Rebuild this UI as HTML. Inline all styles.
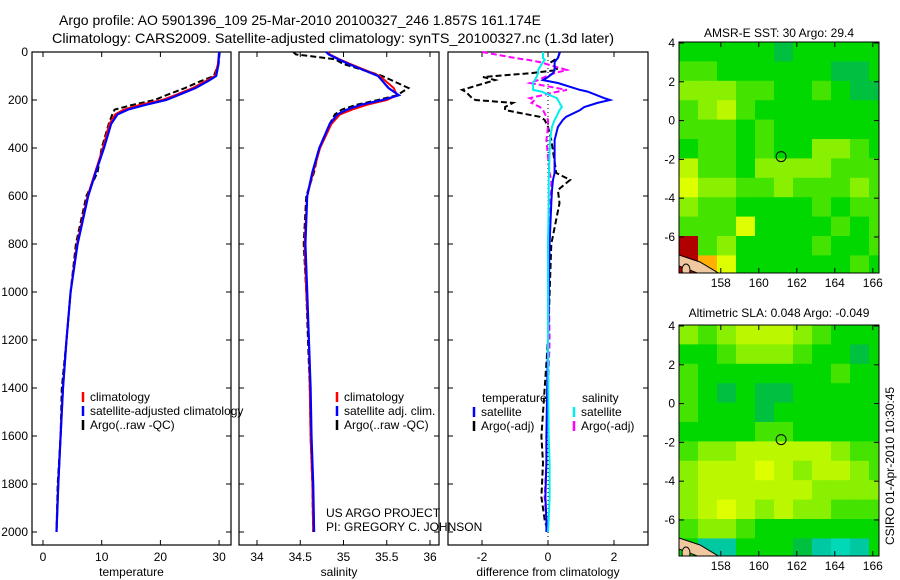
<!DOCTYPE html>
<html><head><meta charset="utf-8"><style>
body{margin:0;background:#fff;}
svg{display:block;font-family:"Liberation Sans",sans-serif;}
</style></head><body>
<svg id="c" width="900" height="580" xmlns="http://www.w3.org/2000/svg">
<text x="59" y="25" font-size="14" textLength="482" lengthAdjust="spacingAndGlyphs">Argo profile: AO 5901396_109 25-Mar-2010 20100327_246 1.857S 161.174E</text>
<text x="52" y="43" font-size="14" textLength="562" lengthAdjust="spacingAndGlyphs">Climatology: CARS2009. Satellite-adjusted climatology: synTS_20100327.nc (1.3d later)</text>
<text x="779" y="37" font-size="12" text-anchor="middle">AMSR-E SST: 30 Argo: 29.4</text>
<text x="779" y="317" font-size="12" text-anchor="middle">Altimetric SLA: 0.048 Argo: -0.049</text>
<text transform="translate(894,466) rotate(-90)" font-size="12" text-anchor="middle">CSIRO 01-Apr-2010 10:30:45</text>
<text x="326" y="517" font-size="12">US ARGO PROJECT</text>
<text x="326" y="531" font-size="12">PI: GREGORY C. JOHNSON</text>
</svg>
<script>
const NS="http://www.w3.org/2000/svg";
const svg=document.getElementById('c');
// ---- profile data ----
const tDepth=[0,50,100,120,150,180,200,220,240,260,300,400,500,600,800,1000,1200,1400,1600,1800,2000];
const tClim=[30,29.8,29.3,27.8,25.5,22.5,20.3,16.5,13.8,12.3,11.3,10.2,8.9,7.6,5.8,4.7,4.0,3.4,3.0,2.6,2.3];
const tSat=[30,29.9,29.5,28.2,26,23,21,17.5,14.5,12.7,11.6,10.4,9,7.7,5.9,4.7,4.0,3.4,3.0,2.6,2.3];
const tArgo=[30.1,29.9,29.1,27,24.2,21,19,15.3,12.2,11.8,11.2,10.0,9.3,7.4,5.6,4.7,4.0,3.2,3.0,2.5,2.3];
const sDepth=[0,10,30,50,100,150,180,200,220,240,260,300,400,500,600,800,1000,1200,1400,1600,1800,2000];
const sClim=[34.82,34.84,34.95,35.08,35.42,35.58,35.62,35.5,35.27,35.1,34.96,34.86,34.73,34.65,34.58,34.55,34.57,34.6,34.61,34.62,34.64,34.65];
const sSat=[34.8,34.83,34.94,35.06,35.4,35.52,35.64,35.45,35.2,35.04,34.93,34.84,34.72,34.64,34.58,34.56,34.58,34.6,34.62,34.63,34.65,34.66];
const sArgo=[34.42,34.45,34.9,35.0,35.45,35.75,35.62,35.4,35.15,34.98,34.9,34.84,34.72,34.66,34.57,34.54,34.57,34.59,34.61,34.62,34.64,34.65];
const dDepth=[0,25,33,42,75,88,104,117,129,158,165,192,200,212,229,242,270,283,312,367,504,533,575,630,800,1200,1600,1712,1854,1950,2000];
const dTSat=[0.36,0.3,0.25,0.2,0.2,0.15,0,-0.15,0.3,0.97,1.2,1.7,1.88,1.5,1.1,0.97,0.55,0.45,0.3,0.2,0.2,0.15,0.12,0.1,0.05,0,-0.05,-0.05,-0.08,-0.05,-0.05];
const dTArgo=[0.36,0.3,0.2,0.1,0.3,-0.5,-1.97,-1.6,-1.9,-2.6,-2.5,-2.3,-2.2,-1.06,-1.3,-1.3,-0.25,-0.1,0,0.1,0.25,0.67,0.3,0.35,0.1,0,-0.2,-0.15,-0.2,-0.1,0];
const dSSat=[-0.15,-0.15,-0.1,-0.15,-0.3,-0.3,-0.35,-0.4,-0.45,-0.45,-0.2,0.27,0.3,0.35,0.42,0.35,0.25,0.2,0.12,0.06,0.03,0.02,0.02,0.02,0,0,0.02,0.05,0.05,0.02,0];
const dSArgo=[-2.0,-1.0,-0.6,-0.25,0.57,0.2,-0.1,-0.3,-0.55,0.57,0.3,-0.55,-0.4,-0.5,-0.25,-0.15,-0.05,0,0,-0.05,0.05,0.1,0.1,0.05,0,0.05,-0.05,-0.05,-0.1,-0.05,0];
// ---- map data (rows lat 4 -> -8, cols lon 155.8 -> 166.8, 1 deg) ----
const sstGrid=[
[1,1,1,1,1,0,1,1,1,1,1],
[2,2,1,1,1,1,1,1,0,0,1],
[3,3,3,2,2,1,1,2,1,0,0],
[2,3,4,2,1,1,1,1,1,1,1],
[2,2,2,1,2,1,1,1,1,1,1],
[1,2,2,1,2,1,1,3,3,2,1],
[4,2,2,1,3,3,3,3,2,2,2],
[5,3,3,2,2,3,2,2,2,3,2],
[3,2,2,1,1,1,1,2,1,2,2],
[2,2,2,5,1,1,1,1,2,1,2],
[7,2,3,1,1,1,1,2,1,1,2],
[7,6,5,1,1,1,1,1,1,2,1]];
const slaGrid=[
[3,2,3,4,4,4,3,2,1,1,1],
[1,1,2,3,3,3,2,1,1,0,1],
[2,1,1,1,1,1,1,1,2,1,1],
[2,1,0,1,0,0,1,1,1,1,1],
[2,1,1,1,0,1,1,1,1,1,1],
[1,1,1,1,2,2,1,1,1,1,1],
[2,3,3,4,4,4,4,4,3,2,2],
[3,4,4,4,5,4,3,4,4,3,2],
[3,4,4,4,4,4,4,3,3,3,3],
[3,4,5,4,3,4,3,3,2,2,2],
[2,3,3,2,1,1,1,1,1,1,1],
[1,-1,-1,1,1,1,0,-1,-2,-1,1]];
const palette={"-2":"#00d8b8","-1":"#00c8a0","0":"#00c040","1":"#00d800","2":"#44e400","3":"#88f000","4":"#bbf800","5":"#ddff00","6":"#ffb000","7":"#b00000"};
const argoLon=161.174, argoLat=-1.857;

function el(tag,attrs,parent){const e=document.createElementNS(NS,tag);for(const k in attrs)e.setAttribute(k,attrs[k]);(parent||svg).appendChild(e);return e;}
function txt(x,y,s,size,anchor,parent){const t=el('text',{x:x,y:y,'font-size':size,'text-anchor':anchor||'start'},parent);t.textContent=s;return t;}
const yD=d=>52+d*0.24;

function panel(name,x0,x1,xs,ticks,labels,xlab,showY){
  const g=el('g',{});
  
  
  const fr=el('rect',{x:x0,y:52,width:x1-x0,height:493,fill:'none',stroke:'#000','stroke-width':1.2},g);
  
  
  ticks.forEach((v,i)=>{const x=xs(v);
    el('line',{x1:x,x2:x,y1:545,y2:540,stroke:'#000'},g);el('line',{x1:x,x2:x,y1:52,y2:57,stroke:'#000'},g);
    const t=txt(x,561,labels[i],12,'middle',g);
    
    });
  for(let d=0;d<=2000;d+=200){const y=yD(d);
    el('line',{x1:x0,x2:x0+5,y1:y,y2:y,stroke:'#000'},g);el('line',{x1:x1,x2:x1-5,y1:y,y2:y,stroke:'#000'},g);
    if(showY){const t=txt(28,y+4,String(d),12,'end',g);
      
      }}
  const xl=txt((x0+x1)/2,576,xlab,12,'middle',g);
  
  
  return g;
}
function line(depths,vals,xs,color,w,dash,name){
  const p=depths.map((d,i)=>xs(vals[i]).toFixed(1)+','+yD(d).toFixed(1)).join(' ');
  const e=el('polyline',{points:p,fill:'none',stroke:color,'stroke-width':w,'stroke-dasharray':dash||'none'});
  
  
}
function legend(x,y,color,label,name){
  el('line',{x1:x,x2:x,y1:y-9,y2:y+1,stroke:color,'stroke-width':2.5});
  const t=txt(x+7,y,label,12,'start');
  
  
}
// Panel 1 temperature
const xT=v=>43+5.87*v;
panel('temperature-panel',32,231,xT,[0,10,20,30],['0','10','20','30'],'temperature',true);
line(tDepth,tArgo,xT,'#000',2,'6,3','temp-argo-line');
line(tDepth,tClim,xT,'#f00',2,null,'temp-climatology-line');
line(tDepth,tSat,xT,'#00f',2.2,null,'temp-satellite-line');
legend(83,401,'#f00','climatology','legend-climatology');
legend(83,415,'#00f','satellite-adjusted climatology','legend-satellite');
legend(83,429,'#000','Argo(..raw -QC)','legend-argo');
// Panel 2 salinity
const xS=v=>257+86.5*(v-34);
panel('salinity-panel',239,439,xS,[34,34.5,35,35.5,36],['34','34.5','35','35.5','36'],'salinity',false);
line(sDepth,sArgo,xS,'#000',2,'6,3','sal-argo-line');
line(sDepth,sClim,xS,'#f00',2,null,'sal-climatology-line');
line(sDepth,sSat,xS,'#00f',2.2,null,'sal-satellite-line');
legend(337,401,'#f00','climatology','legend-sal-climatology');
legend(337,415,'#00f','satellite adj. clim.','legend-sal-satellite');
legend(337,429,'#000','Argo(..raw -QC)','legend-sal-argo');
// Panel 3 difference
const xDf=v=>548+33*v;
panel('difference-panel',448,648,xDf,[-2,0,2],['-2','0','2'],'difference from climatology',false);
el('line',{x1:548,x2:548,y1:52,y2:545,stroke:'#000','stroke-dasharray':'1,3'});
line(dDepth,dTArgo,xDf,'#000',2,'6,3','diff-temp-argo-line');
line(dDepth,dSArgo,xDf,'#f0f',2,'6,3','diff-sal-argo-line');
line(dDepth,dTSat,xDf,'#00f',2,null,'diff-temp-satellite-line');
line(dDepth,dSSat,xDf,'#0ee',2,null,'diff-sal-satellite-line');
{const a=txt(482,402,'temperature',12);
 const b=txt(582,402,'salinity',12);}
legend(474,416,'#00f','satellite','legend-diff-temp-satellite');
legend(474,430,'#000','Argo(-adj)','legend-diff-temp-argo');
legend(574,416,'#0ee','satellite','legend-diff-sal-satellite');
legend(574,430,'#f0f','Argo(-adj)','legend-diff-sal-argo');

// Maps
function map(name,top,grid){
  const g=el('g',{});
  
  
  const lat0=4.05, lon0=155.8, px=19, py=19.4;
  const X=lon=>679+(lon-lon0)*px, Y=lat=>top+(lat0-lat)*py;
  const clipId=name+'-clip';
  const cp=el('clipPath',{id:clipId},g);el('rect',{x:679,y:top,width:200,height:231},cp);
  const cg=el('g',{'clip-path':'url(#'+clipId+')'},g);
  grid.forEach((row,r)=>row.forEach((v,c)=>{
    const cell=el('rect',{x:X(lon0+c).toFixed(1),y:Y(lat0-r).toFixed(1),width:px+0.6,height:py+0.6,fill:palette[String(v)]},cg);
    
    
  }));
  el('path',{d:`M679,${top+213} L700,${top+220} L720,${top+232} L740,${top+240} L735,${top+244} L700,${top+232} L679,${top+224}Z`,fill:'#f0c8a0',stroke:'#000','stroke-width':1},cg);
  el('ellipse',{cx:686,cy:top+228,rx:4,ry:6,fill:'#f0c8a0',stroke:'#000'},cg);
  el('rect',{x:679,y:top,width:200,height:231,fill:'none',stroke:'#000'},g);
  [158,160,162,164,166].forEach(l=>{const x=X(l);
    el('line',{x1:x,x2:x,y1:top+231,y2:top+226,stroke:'#000'},g);el('line',{x1:x,x2:x,y1:top,y2:top+5,stroke:'#000'},g);
    const t=txt(x,top+245,String(l),12,'middle',g);
    
    });
  [4,2,0,-2,-4,-6].forEach(l=>{const y=Y(l);
    el('line',{x1:679,x2:684,y1:y,y2:y,stroke:'#000'},g);el('line',{x1:879,x2:874,y1:y,y2:y,stroke:'#000'},g);
    const t=txt(675,y+4,String(l),12,'end',g);
    
    });
  const pt=el('circle',{cx:X(argoLon),cy:Y(argoLat),r:5,fill:'none',stroke:'#000','stroke-width':1},g);
  
  
}
map('sst-map',42,sstGrid);
map('sla-map',325,slaGrid);
</script>
</body></html>
